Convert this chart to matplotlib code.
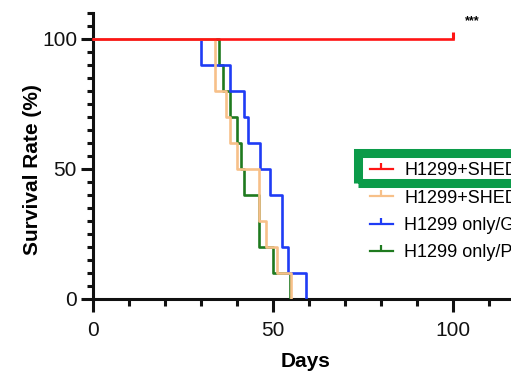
import matplotlib
matplotlib.use("Agg")
import matplotlib.pyplot as plt
from matplotlib.lines import Line2D
from matplotlib.patches import Rectangle
from matplotlib.ticker import MultipleLocator

plt.rcParams['font.family'] = ['Liberation Sans', 'DejaVu Sans']

# Kaplan-Meier steps (day, survival %)
red_days = [0, 100]
red_surv = [100, 100]

orange_days = [0, 34, 37, 38, 40, 46, 48, 51, 55]
orange_surv = [100, 80, 70, 60, 50, 30, 20, 10, 0]

blue_days = [0, 30, 38, 42, 43, 46.3, 49.2, 52.4, 54.2, 59.2]
blue_surv = [100, 90, 80, 70, 60, 50, 40, 20, 10, 0]

green_days = [0, 35, 36.2, 38.1, 39.9, 41.1, 41.9, 46.1, 50.1, 54.8]
green_surv = [100, 90, 80, 70, 60, 50, 40, 20, 10, 0]

labels = ["H1299+SHED-IFN/GCV", "H1299+SHED-IFN/PBS",
          "H1299 only/GCV", "H1299 only/PBS"]
colors = ["#ff1414", "#f7c089", "#1f3cf5", "#1f7a1f"]

W, H = 511, 372
fig = plt.figure(figsize=(W / 100, H / 100), dpi=100)
# axes run past the right edge, as in the cropped original
ax = fig.add_axes([93 / W, (H - 299) / H, 120 * 3.6 / W, 110 * 2.6 / H])

lw = 1.9
ax.step(green_days, green_surv, where='post', color=colors[3], lw=lw, zorder=3)
ax.step(blue_days, blue_surv, where='post', color=colors[2], lw=lw, zorder=4)
ax.step(orange_days, orange_surv, where='post', color=colors[1], lw=lw, zorder=5)
ax.plot(red_days, red_surv, color=colors[0], lw=lw, marker=2, markevery=[1],
        ms=5, mew=2.2, zorder=6, clip_on=False)

ax.set_xlim(0, 120)
ax.set_ylim(0, 110)
ax.xaxis.set_major_locator(MultipleLocator(50))
ax.xaxis.set_minor_locator(MultipleLocator(10))
ax.yaxis.set_major_locator(MultipleLocator(50))
ax.yaxis.set_minor_locator(MultipleLocator(5))

for s in ['top', 'right']:
    ax.spines[s].set_visible(False)
for s in ['left', 'bottom']:
    ax.spines[s].set_linewidth(2.2)
    ax.spines[s].set_color('#111111')

ax.tick_params(axis='x', which='major', length=9.5, width=2.2, pad=6,
               labelsize=15, colors='#111111')
ax.tick_params(axis='x', which='minor', length=5, width=2.2, colors='#111111')
ax.tick_params(axis='y', which='major', length=8.5, width=2.2, pad=3,
               labelsize=15, colors='#111111')
ax.tick_params(axis='y', which='minor', length=4.5, width=2.2, colors='#111111')

ax.set_xlabel("Days", fontsize=15, fontweight='bold')
ax.xaxis.set_label_coords(0.493, -0.185)
ax.set_ylabel("Survival Rate (%)", fontsize=15, fontweight='bold')
ax.yaxis.set_label_coords(-0.118, 0.453)

ax.text(105.3, 106.7, "***", fontsize=9, fontweight='bold',
        ha='center', va='center', clip_on=False)

handles = [Line2D([], [], color=c, lw=1.6, marker=2, ms=4, mew=1.6)
           for c in colors]
ax.legend(handles, labels, loc='upper left',
          bbox_to_anchor=(370 / W, 1 - 162.5 / H), bbox_transform=fig.transFigure,
          frameon=False, fontsize=13, handlelength=1.27, handletextpad=0.62,
          labelspacing=0.565, borderpad=0, borderaxespad=0, numpoints=1)

fig.patches.append(Rectangle((357.5 / W, 1 - 182.5 / H), 300 / W, 30 / H,
                             transform=fig.transFigure, fill=False,
                             ec='#0b9b49', lw=6.5, zorder=10))

fig.savefig("out.png", dpi=100)
